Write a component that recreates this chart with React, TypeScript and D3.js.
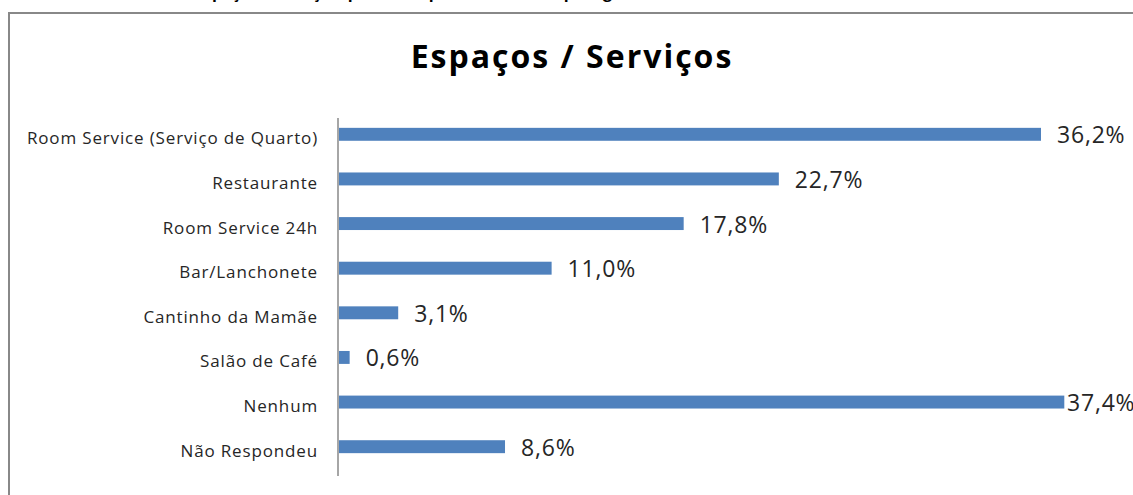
import React from "react";
import * as d3 from "d3";

const categories = [
  "Room Service (Serviço de Quarto)",
  "Restaurante",
  "Room Service 24h",
  "Bar/Lanchonete",
  "Cantinho da Mamãe",
  "Salão de Café",
  "Nenhum",
  "Não Respondeu",
];
const values = [36.2, 22.7, 17.8, 11.0, 3.1, 0.6, 37.4, 8.6];
const valueLabels = ["36,2%", "22,7%", "17,8%", "11,0%", "3,1%", "0,6%", "37,4%", "8,6%"];
const title = "Espaços / Serviços";
const cutTitle = "Espaços / Serviços que mais aproveitou na hospedagem";

const W = 1133;
const H = 495;
const FONT = "'Open Sans', Lato, sans-serif";

export default function App() {
  const x0 = 338;
  const x = d3.scaleLinear().domain([0, 36.2]).range([x0, 1041]);
  const y = d3.scaleBand<string>().domain(categories).range([112, 469]).paddingInner(0.71).paddingOuter(0.355);
  return (
    <svg width={W} height={H} style={{ position: "absolute", left: 0, top: 0, background: "#fff" }}>
      <rect x={0} y={0} width={W} height={H} fill="#fff" />
      <text x={195} y={-2} fontFamily={FONT} fontWeight="bold" fontSize={16} fill="#000">{cutTitle}</text>
      <line x1={9} y1={13} x2={W + 5} y2={13} stroke="#888" strokeWidth={2} />
      <line x1={9} y1={12} x2={9} y2={H + 5} stroke="#888" strokeWidth={2} />
      <text x={572} y={68} textAnchor="middle" fontFamily={FONT} fontWeight="bold" fontSize={32} letterSpacing={2} fill="#000">{title}</text>
      {categories.map((c, i) => {
        const yc = (y(c) as number) + y.bandwidth() / 2;
        const lx = Math.min(x(values[i]) + 16, W - 66);
        return (
          <g key={c}>
            <rect x={x0} y={y(c)} width={x(values[i]) - x0} height={y.bandwidth()} fill="#4F81BD" />
            <text x={318} y={yc + 10} textAnchor="end" fontFamily={FONT} fontSize={17} letterSpacing={0.85} fill="#262626">{c}</text>
            <text x={lx} y={yc + 9} fontFamily={FONT} fontSize={23} letterSpacing={0.8} fill="#262626">{valueLabels[i]}</text>
          </g>
        );
      })}
      <line x1={x0} y1={118} x2={x0} y2={476} stroke="#A6A6A6" strokeWidth={2} />
    </svg>
  );
}
